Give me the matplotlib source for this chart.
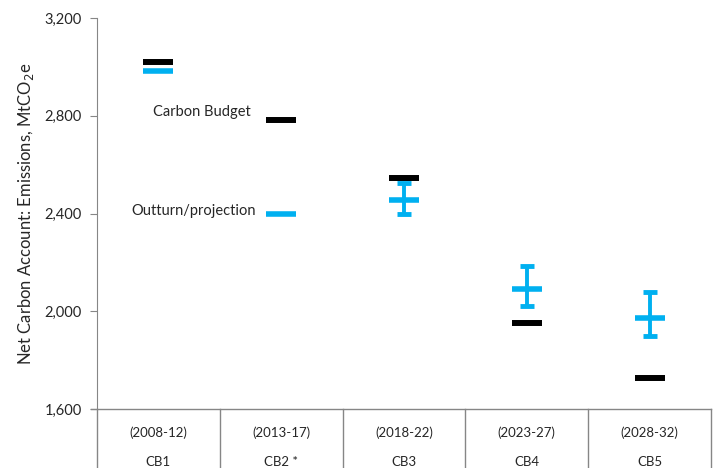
import numpy as np
import matplotlib.pyplot as plt

# Data
budgets = ['CB1', 'CB2 *', 'CB3', 'CB4', 'CB5']
periods = ['(2008-12)', '(2013-17)', '(2018-22)', '(2023-27)', '(2028-32)']
carbon_budget = [3018, 2782, 2544, 1950, 1725]
outturn = [2982, 2400, 2455, 2090, 1973]
proj_low = [None, None, 2398, 2022, 1899]
proj_high = [None, None, 2525, 2185, 2079]

blue = '#00B0F0'
grey = '#868686'
txt = '#262626'
plt.rcParams['font.family'] = ['Lato', 'DejaVu Sans']

fig = plt.figure(figsize=(7.19, 4.68), dpi=100)
ax = fig.add_axes([97/719, 1-409/468, (711-97)/719, (409-18)/468])

x = np.arange(len(budgets))
ax.plot(x, carbon_budget, ls='none', marker='_', ms=21, mew=4.3, color='black', zorder=3)
ax.plot(x, outturn, ls='none', marker='_', ms=21, mew=4.0, color=blue, zorder=3)

# projection ranges
idx = [i for i in range(len(budgets)) if proj_low[i] is not None]
lo = [outturn[i] - proj_low[i] for i in idx]
hi = [proj_high[i] - outturn[i] for i in idx]
ax.errorbar(idx, [outturn[i] for i in idx], yerr=[lo, hi], fmt='none',
            ecolor=blue, elinewidth=2.8, capsize=5, capthick=3.5, zorder=2)

ax.text(0.35, 2815, 'Carbon Budget', fontsize=10.5, color=txt, va='center', ha='center')
ax.text(0.29, 2412, 'Outturn/projection', fontsize=10.5, color=txt, va='center', ha='center')

ax.set_xlim(-0.5, 4.5)
ax.set_ylim(1600, 3200)
ax.set_yticks([1600, 2000, 2400, 2800, 3200])
ax.set_yticklabels(['1,600', '2,000', '2,400', '2,800', '3,200'])
ax.set_xticks([])
ax.tick_params(axis='y', direction='out', length=5, color=grey, labelsize=10.5, labelcolor=txt, pad=6)
for s in ['top', 'right', 'bottom']:
    ax.spines[s].set_visible(False)
ax.spines['left'].set_color(grey)
ax.set_ylabel('Net Carbon Account: Emissions, MtCO$_2$e', fontsize=12, color=txt, labelpad=6)

# category table below axis
tr = ax.get_xaxis_transform()
ax.plot([-0.55, 4.5], [0, 0], transform=tr, color=grey, lw=1, clip_on=False)
for b in np.arange(-0.5, 5.0, 1.0):
    ax.plot([b, b], [0, -0.16], transform=tr, color=grey, lw=1, clip_on=False)
for i in range(len(budgets)):
    ax.text(x[i], -0.061, periods[i], transform=tr, ha='center', va='center', fontsize=9.5, color=txt)
    ax.text(x[i], -0.135, budgets[i], transform=tr, ha='center', va='center', fontsize=9.5, color=txt)

plt.savefig('out.png', dpi=100)
